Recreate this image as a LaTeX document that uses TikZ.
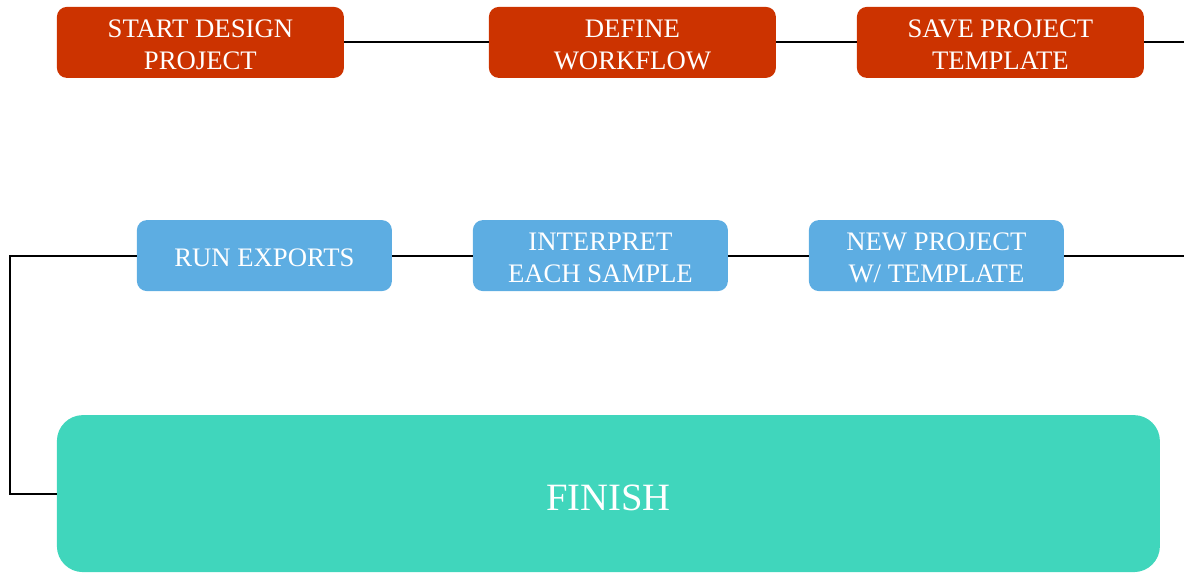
\documentclass[tikz,border=0pt]{standalone}
\usepackage{fontspec}
\setmainfont{Liberation Serif}
\usetikzlibrary{positioning}

\definecolor{stepred}{RGB}{204,51,0}
\definecolor{stepblue}{RGB}{93,173,226}
\definecolor{stepteal}{RGB}{64,214,188}

\tikzstyle{redbox}=[rectangle, rounded corners=0.25cm, fill=stepred, text=white, minimum width=7.175cm, minimum height=1.775cm, align=center, font=\fontsize{19}{22.8}\selectfont]
\tikzstyle{bluebox}=[rectangle, rounded corners=0.25cm, fill=stepblue, text=white, minimum width=6.375cm, minimum height=1.775cm, align=center, font=\fontsize{19}{22.8}\selectfont]
\tikzstyle{oneline}=[execute at begin node={\rule{0pt}{16.2pt}}]
\tikzstyle{twoline}=[execute at begin node={\rule{0pt}{39pt}}]
\tikzstyle{finishbox}=[rectangle, rounded corners=0.65cm, fill=stepteal, text=white, minimum width=27.575cm, minimum height=3.925cm, font=\fontsize{27.5}{32}\selectfont, execute at begin node={\rule{0pt}{24.2pt}}]
\tikzstyle{link}=[draw=black, line width=1.4pt]

\begin{document}
\begin{tikzpicture}
\useasboundingbox (0,0) rectangle (29.6,-14.325);

\node[redbox, twoline] (start) at (5.01,-1.06) {START DESIGN\\PROJECT};
\node[redbox, twoline] (define) at (15.81,-1.06) {DEFINE\\WORKFLOW};
\node[redbox, twoline] (save) at (25.01,-1.06) {SAVE PROJECT\\TEMPLATE};

\node[bluebox, oneline] (run) at (6.61,-6.39) {RUN EXPORTS};
\node[bluebox, twoline] (interp) at (15.01,-6.39) {INTERPRET\\EACH SAMPLE};
\node[bluebox, twoline] (newproj) at (23.41,-6.39) {NEW PROJECT\\W/ TEMPLATE};

\node[finishbox] (finish) at (15.21,-12.34) {FINISH};

\coordinate (redend) at (29.6,-1.06);
\coordinate (blueend) at (29.6,-6.39);
\coordinate (leftbend) at (0.25,-6.39);

\draw[link] (start) -- (define);
\draw[link] (define) -- (save);
\draw[link] (save) -- (redend);

\draw[link] (blueend) -- (newproj);
\draw[link] (newproj) -- (interp);
\draw[link] (interp) -- (run);
\draw[link] (run.west) -- (leftbend) |- (finish.west);
\end{tikzpicture}
\end{document}
